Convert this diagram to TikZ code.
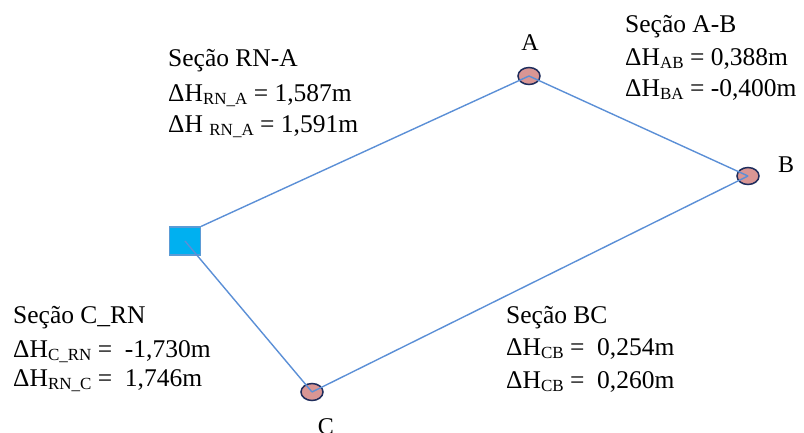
\documentclass[tikz,border=0pt]{standalone}
\usepackage{fontspec}
\setmainfont{Liberation Serif}
\usetikzlibrary{shapes.geometric}
\definecolor{linkblue}{HTML}{5B8FD6}
\definecolor{ptfill}{HTML}{D99694}
\definecolor{ptedge}{HTML}{1F2D5C}
\definecolor{rnfill}{HTML}{00B0F0}
\definecolor{rnedge}{HTML}{5B9BD5}
\newcommand{\lowtxt}[1]{\raisebox{-0.3ex}{\fontsize{17}{17}\selectfont #1}}
\tikzset{
  pt/.style={ellipse, draw=ptedge, fill=ptfill, line width=1.5pt, minimum width=22pt, minimum height=17pt, inner sep=0pt},
  rn/.style={rectangle, draw=rnedge, fill=rnfill, line width=1.2pt, minimum width=31pt, minimum height=28pt, inner sep=0pt},
  link/.style={draw=linkblue, line width=1.4pt},
  txt/.style={anchor=base west, inner sep=0pt, font=\fontsize{25.5}{25.5}\selectfont},
  ptlabel/.style={anchor=base, inner sep=0pt, font=\fontsize{24}{24}\selectfont}
}
\begin{document}
\begin{tikzpicture}[x=1pt,y=-1pt]
\useasboundingbox (0,0) rectangle (804,432);
% nodes
\node[rn] (RN) at (185,241) {};
\node[pt] (A) at (529,76) {};
\node[pt] (B) at (748,176) {};
\node[pt] (C) at (312,392) {};
% connectors
\draw[link] (RN.north east) -- (A.center);
\draw[link] (A.center) -- (B.center);
\draw[link] (B.center) -- (C.center);
\draw[link] (C.center) -- (RN.center);
% point labels
\node[ptlabel] (la) at (530,50) {A};
\node[ptlabel] (lb) at (786,172) {B};
\node[ptlabel] (lc) at (326,434) {C};
% RN-A
\node[txt] (t1a) at (168,66) {Seção RN-A};
\node[txt] (t1b) at (168,101) {ΔH\lowtxt{RN\_A} = 1,587m};
\node[txt] (t1c) at (168,132) {ΔH \lowtxt{RN\_A} = 1,591m};
% A-B
\node[txt] (t2a) at (625,32) {Seção A-B};
\node[txt] (t2b) at (625,65) {ΔH\lowtxt{AB} = 0,388m};
\node[txt] (t2c) at (625,96) {ΔH\lowtxt{BA} = -0,400m};
% C_RN
\node[txt] (t3a) at (13,323) {Seção C\_RN};
\node[txt] (t3b) at (13,357) {ΔH\lowtxt{C\_RN} =\ \ -1,730m};
\node[txt] (t3c) at (13,386) {ΔH\lowtxt{RN\_C} =\ \ 1,746m};
% BC
\node[txt] (t4a) at (506,323) {Seção BC};
\node[txt] (t4b) at (506,355) {ΔH\lowtxt{CB} =\ \ 0,254m};
\node[txt] (t4c) at (506,388) {ΔH\lowtxt{CB} =\ \ 0,260m};
\end{tikzpicture}
\end{document}
